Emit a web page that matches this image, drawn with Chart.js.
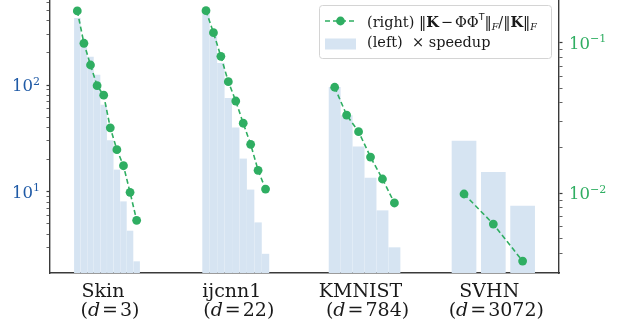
<!DOCTYPE html>
<html><head><meta charset="utf-8">
<script src="https://cdn.jsdelivr.net/npm/chart.js@4/dist/chart.umd.min.js"></script>
<style>html,body{margin:0;padding:0;background:#fff;}canvas{display:block;}</style>
</head><body>
<canvas id="c" width="619" height="329"></canvas>
<script>
// ---------------- data ----------------
const categories = ['Skin', 'ijcnn1', 'KMNIST', 'SVHN'];
const dimensions = [3, 22, 784, 3072];

// left axis: x speedup (bars)
const speedupSkin   = [422, 258, 183, 124, 65, 30.1, 16.0, 8.06, 4.28, 2.21];
const speedupIjcnn1 = [486, 294, 160, 75, 39.8, 20.3, 10.4, 5.12, 2.60];
const speedupKmnist = [95.1, 51.6, 26.4, 13.4, 6.64, 2.99];
const speedupSvhn   = [29.8, 15.2, 7.35];

// right axis: relative kernel error (dashed line + dots)
const errorSkin   = [0.1624, 0.0991, 0.0711, 0.0518, 0.0448, 0.0272, 0.0195, 0.01525, 0.01015, 0.00662];
const errorIjcnn1 = [0.1632, 0.1165, 0.0812, 0.0551, 0.0410, 0.0292, 0.02115, 0.01422, 0.01068];
const errorKmnist = [0.0506, 0.0331, 0.02565, 0.01742, 0.01245, 0.00863];
const errorSvhn   = [0.0099, 0.00625, 0.00355];

// tick labels: base and exponent
const leftTickValues  = [10, 100];
const leftTickLabels  = [['10', '1'], ['10', '2']];
const rightTickValues = [0.01, 0.1];
const rightTickLabels = [['10', '\u22122'], ['10', '\u22121']];

// ---------------- layout / style ----------------
const speedups = [speedupSkin, speedupIjcnn1, speedupKmnist, speedupSvhn];
const errors = [errorSkin, errorIjcnn1, errorKmnist, errorSvhn];
const X_RANGE = [-0.4425, 3.51];
const LEFT_RANGE = [1.73, 627];
const RIGHT_RANGE = [0.00296, 0.192];
const GROUP_SPACING = [0.0512, 0.0578, 0.0928, 0.2275];
const BAR_FILL = [0.88, 0.9, 0.94, 0.82];
const PLOT_LEFT = 50, PLOT_RIGHT = 559, PLOT_BOTTOM = 273;
const PX_PER_UNIT = (PLOT_RIGHT - PLOT_LEFT) / (X_RANGE[1] - X_RANGE[0]);
const BAR_COLOR = '#d6e4f2';
const GREEN = '#2fae62';
const BLUE = '#1f5aa6';
const TEXT = '#1a1a1a';
const AXIS = '#3a3a3a';
const SERIF = '"DejaVu Serif", serif';

function xOf(g, i, n) { return g + (i - (n - 1) / 2) * GROUP_SPACING[g]; }

const datasets = [];
categories.forEach((cat, g) => {
  const s = speedups[g];
  datasets.push({
    type: 'bar', label: cat + ' speedup', yAxisID: 'y', stack: 'all', order: 2,
    data: s.map((v, i) => ({ x: xOf(g, i, s.length), y: v })),
    backgroundColor: BAR_COLOR, borderWidth: 0,
    barThickness: GROUP_SPACING[g] * PX_PER_UNIT * BAR_FILL[g]
  });
});
categories.forEach((cat, g) => {
  const e = errors[g];
  datasets.push({
    type: 'line', label: cat + ' error', yAxisID: 'y2', order: 0,
    data: e.map((v, i) => ({ x: xOf(g, i, e.length), y: v })),
    borderColor: GREEN, borderWidth: 1.6, borderDash: [5, 3], tension: 0, fill: false,
    pointRadius: 4.4, pointBackgroundColor: GREEN, pointBorderWidth: 0, pointHoverRadius: 4.4
  });
});

function isNice(v) {
  const e = Math.floor(Math.log10(v) + 1e-9);
  const m = v / Math.pow(10, e);
  return Math.abs(m - Math.round(m)) < 1e-6;
}
function near(a, b) { return Math.abs(a - b) / b < 1e-6; }
function isMajorVal(v, list) { return list.some(t => near(v, t)); }

function segWidth(ctx, segs) {
  let w = 0;
  segs.forEach(s => { ctx.font = s.font; s.w = ctx.measureText(s.t).width; w += s.w + (s.gap || 0); });
  return w;
}
function drawSegs(ctx, segs, x, y, align) {
  const w = segWidth(ctx, segs);
  let cx = align === 'center' ? x - w / 2 : (align === 'right' ? x - w : x);
  ctx.textAlign = 'left'; ctx.textBaseline = 'alphabetic';
  segs.forEach(s => { ctx.font = s.font; ctx.fillStyle = s.color || TEXT; ctx.fillText(s.t, cx, y + (s.dy || 0)); cx += s.w + (s.gap || 0); });
}

const xLabelsPlugin = {
  id: 'xLabels',
  afterDraw(chart) {
    const ctx = chart.ctx, xs = chart.scales.x;
    ctx.save();
    const F = '19px ' + SERIF;
    categories.forEach((cat, g) => {
      const px = xs.getPixelForValue(g);
      drawSegs(ctx, [{ t: cat, font: F }], px - 4, 297, 'center');
      drawSegs(ctx, [
        { t: '(', font: F },
        { t: 'd', font: 'italic ' + F, gap: 2 },
        { t: '=', font: F, gap: 2 },
        { t: String(dimensions[g]), font: F },
        { t: ')', font: F }
      ], px + 3, 316, 'center');
    });
    ctx.restore();
  }
};

const yLabelsPlugin = {
  id: 'yLabels',
  afterDraw(chart) {
    const ctx = chart.ctx;
    ctx.save();
    const F = '16.5px ' + SERIF, FE = '11px ' + SERIF;
    const draw = (scale, vals, labels, color, side) => {
      vals.forEach((v, k) => {
        const py = scale.getPixelForValue(v);
        const segs = [
          { t: labels[k][0], font: F, color },
          { t: labels[k][1], font: FE, color, dy: -6.5 }
        ];
        if (side === 'left') drawSegs(ctx, segs, scale.right - 3.5 - 6.5, py + 6, 'right');
        else drawSegs(ctx, segs, scale.left + 3.5 + 6.5, py + 6, 'left');
      });
    };
    draw(chart.scales.y, leftTickValues, leftTickLabels, BLUE, 'left');
    draw(chart.scales.y2, rightTickValues, rightTickLabels, GREEN, 'right');
    ctx.restore();
  }
};

const legendPlugin = {
  id: 'customLegend',
  afterDraw(chart) {
    const ctx = chart.ctx;
    ctx.save();
    const bx = 319, by = 5, bw = 232, bh = 53;
    ctx.beginPath();
    ctx.roundRect(bx + 0.5, by + 0.5, bw, bh, 3);
    ctx.fillStyle = 'rgba(255,255,255,0.85)';
    ctx.fill();
    ctx.strokeStyle = '#d4d4d4'; ctx.lineWidth = 1; ctx.stroke();
    ctx.strokeStyle = GREEN; ctx.lineWidth = 1.6; ctx.setLineDash([5, 3]);
    ctx.beginPath(); ctx.moveTo(325, 21); ctx.lineTo(356, 21); ctx.stroke();
    ctx.setLineDash([]);
    ctx.fillStyle = GREEN; ctx.beginPath(); ctx.arc(340.5, 21, 4.4, 0, Math.PI * 2); ctx.fill();
    ctx.fillStyle = BAR_COLOR; ctx.fillRect(325, 38.5, 31, 11);
    const F = '14.5px ' + SERIF, FB = 'bold 14.5px ' + SERIF;
    const FS = 'italic 9.5px ' + SERIF, FT = '9.5px "DejaVu Sans", sans-serif';
    drawSegs(ctx, [
      { t: '(right) ', font: F },
      { t: '\u2016', font: F }, { t: 'K', font: FB, gap: 2 }, { t: '\u2212', font: F, gap: 2 },
      { t: '\u03A6\u03A6', font: F }, { t: 'T', font: FT, dy: -6.5 },
      { t: '\u2016', font: F }, { t: 'F', font: FS, dy: 3 }, { t: '/', font: F },
      { t: '\u2016', font: F }, { t: 'K', font: FB }, { t: '\u2016', font: F }, { t: 'F', font: FS, dy: 3 }
    ], 367, 26.5, 'left');
    drawSegs(ctx, [
      { t: '(left)  ', font: F }, { t: '\u00D7', font: F }, { t: ' speedup', font: F }
    ], 367, 46.5, 'left');
    ctx.restore();
  }
};

new Chart(document.getElementById('c'), {
  type: 'bar',
  data: { datasets },
  plugins: [xLabelsPlugin, yLabelsPlugin, legendPlugin],
  options: {
    responsive: false, animation: false, devicePixelRatio: 1,
    layout: { padding: 0, autoPadding: false },
    plugins: { legend: { display: false }, tooltip: { enabled: false } },
    scales: {
      x: {
        type: 'linear', min: X_RANGE[0], max: X_RANGE[1], position: 'bottom', offset: false,
        grid: { display: false, drawTicks: false, offset: false },
        ticks: { display: false },
        border: { display: true, color: AXIS, width: 1.4 },
        afterFit(s) { s.height = 329 - PLOT_BOTTOM; s.paddingLeft = 0; s.paddingRight = 0; }
      },
      y: {
        type: 'logarithmic', position: 'left', min: LEFT_RANGE[0], max: LEFT_RANGE[1], stacked: false,
        grid: { drawOnChartArea: false, drawTicks: true, tickLength: 3.5, tickColor: AXIS,
          tickWidth: c => (c.tick && isMajorVal(c.tick.value, leftTickValues)) ? 1.2 : 0.8 },
        border: { display: true, color: AXIS, width: 1.4 },
        afterBuildTicks(s) { s.ticks = s.ticks.filter(t => isNice(t.value) && t.value >= s.min && t.value <= s.max); },
        ticks: { display: false, autoSkip: false },
        afterFit(s) { s.width = PLOT_LEFT; s.paddingTop = 0; s.paddingBottom = 0; }
      },
      y2: {
        type: 'logarithmic', position: 'right', min: RIGHT_RANGE[0], max: RIGHT_RANGE[1], stacked: false,
        grid: { drawOnChartArea: false, drawTicks: true, tickLength: 3.5, tickColor: AXIS,
          tickWidth: c => (c.tick && isMajorVal(c.tick.value, rightTickValues)) ? 1.2 : 0.8 },
        border: { display: true, color: AXIS, width: 1.4 },
        afterBuildTicks(s) { s.ticks = s.ticks.filter(t => isNice(t.value) && t.value >= s.min && t.value <= s.max); },
        ticks: { display: false, autoSkip: false },
        afterFit(s) { s.width = 619 - PLOT_RIGHT; s.paddingTop = 0; s.paddingBottom = 0; }
      }
    }
  }
});
</script>
</body></html>
